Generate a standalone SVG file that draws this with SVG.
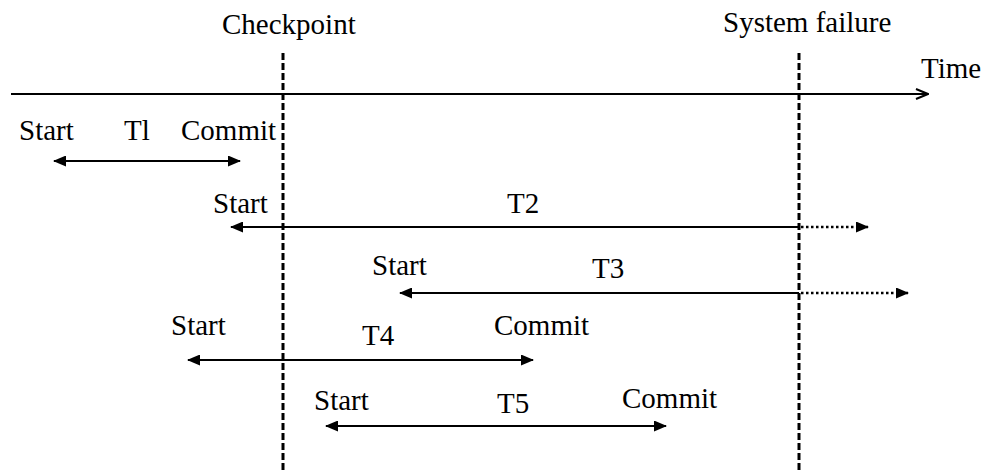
<svg xmlns="http://www.w3.org/2000/svg" width="991" height="473" viewBox="0 0 991 473">
  <style>
    text { font-family: "Liberation Serif", "Times New Roman", serif; font-size: 29px; fill: #000; }
    .axis { stroke: #000; stroke-width: 2; fill: none; }
    .marker-line { stroke: #000; stroke-width: 3; stroke-dasharray: 7 3; fill: none; }
    .span { stroke: #000; stroke-width: 2; fill: none; }
    .pending { stroke: #000; stroke-width: 2.5; stroke-dasharray: 2.5 2.5; fill: none; }
  </style>
  <defs>
    <marker id="head" viewBox="0 0 13 11" refX="12" refY="5.5" markerWidth="13" markerHeight="11" markerUnits="userSpaceOnUse" orient="auto-start-reverse">
      <path d="M0,0 L13,5.5 L0,11 Z" fill="#000"/>
    </marker>
    <marker id="open" viewBox="0 0 14 12" refX="13" refY="6" markerWidth="14" markerHeight="12" markerUnits="userSpaceOnUse" orient="auto">
      <path d="M1,1 L13,6 L1,11" fill="none" stroke="#000" stroke-width="2"/>
    </marker>
  </defs>

  <!-- time axis -->
  <g id="time-axis">
    <line class="axis" x1="11" y1="94" x2="928" y2="94" marker-end="url(#open)"/>
    <text x="921" y="78">Time</text>
  </g>

  <!-- reference instants -->
  <g id="checkpoint">
    <line class="marker-line" x1="283" y1="53" x2="283" y2="473"/>
    <text x="222" y="34">Checkpoint</text>
  </g>
  <g id="system-failure">
    <line class="marker-line" x1="799" y1="53" x2="799" y2="473"/>
    <text x="723" y="32">System failure</text>
  </g>

  <!-- transaction spans -->
  <g id="connectors">
    <line class="span" x1="54" y1="161" x2="240" y2="161" marker-start="url(#head)" marker-end="url(#head)"/>
    <line class="span" x1="231" y1="227" x2="799" y2="227" marker-start="url(#head)"/>
    <line class="pending" x1="801" y1="227" x2="868" y2="227" marker-end="url(#head)"/>
    <line class="span" x1="400" y1="293" x2="799" y2="293" marker-start="url(#head)"/>
    <line class="pending" x1="801" y1="293" x2="908" y2="293" marker-end="url(#head)"/>
    <line class="span" x1="188" y1="360" x2="533" y2="360" marker-start="url(#head)" marker-end="url(#head)"/>
    <line class="span" x1="326" y1="426" x2="666" y2="426" marker-start="url(#head)" marker-end="url(#head)"/>
  </g>

  <g id="t1">
    <text x="19" y="140">Start</text>
    <text x="124" y="140">Tl</text>
    <text x="181" y="140">Commit</text>
  </g>
  <g id="t2">
    <text x="213" y="213">Start</text>
    <text x="507" y="213">T2</text>
  </g>
  <g id="t3">
    <text x="372" y="275">Start</text>
    <text x="592" y="278">T3</text>
  </g>
  <g id="t4">
    <text x="171" y="335">Start</text>
    <text x="362" y="345">T4</text>
    <text x="494" y="335">Commit</text>
  </g>
  <g id="t5">
    <text x="314" y="410">Start</text>
    <text x="497" y="413">T5</text>
    <text x="622" y="408">Commit</text>
  </g>
</svg>
